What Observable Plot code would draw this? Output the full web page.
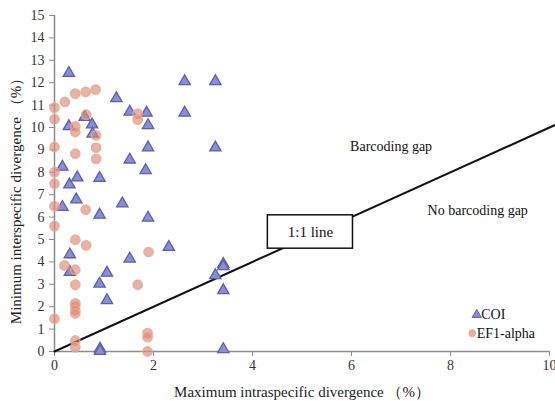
<!DOCTYPE html>
<html>
<head>
<meta charset="utf-8">
<script src="https://cdn.jsdelivr.net/npm/d3@7"></script>
<script src="https://cdn.jsdelivr.net/npm/@observablehq/plot@0.6"></script>
<style>
  html, body { margin: 0; padding: 0; background: #fff; }
  svg { display: block; }
</style>
</head>
<body>
<div id="chart"></div>
<script>
// ---- data ----
const coiX = [0.29, 2.63, 3.25, 1.25, 1.52, 1.86, 2.63, 0.61, 0.29, 0.76, 1.89, 0.77, 1.89, 3.25, 1.52, 0.16, 1.84, 0.46, 0.91, 0.30, 0.44, 1.37, 0.16, 0.91, 1.89, 2.31, 0.31, 1.52, 3.41, 3.41, 0.31, 1.06, 3.25, 0.91, 3.41, 1.06, 0.92, 0.92, 3.41];
const coiY = [12.43, 12.06, 12.06, 11.30, 10.70, 10.65, 10.65, 10.47, 10.05, 10.13, 10.10, 9.72, 9.10, 9.10, 8.56, 8.24, 8.09, 7.76, 7.74, 7.45, 6.78, 6.60, 6.45, 6.10, 5.97, 4.66, 4.33, 4.14, 3.90, 3.80, 3.54, 3.51, 3.40, 3.02, 2.73, 2.28, 0.12, 0.02, 0.10];
const efX = [0, 0, 0.21, 0.42, 0.63, 0.83, 0.64, 0.42, 0.42, 1.68, 1.68, 0.84, 0, 0.84, 0.42, 0.84, 0, 0, 0, 0.63, 0, 0.42, 0.64, 1.90, 0.20, 0.42, 0.42, 1.68, 0.42, 0.42, 0.42, 0.42, 0, 1.88, 1.88, 0.42, 0.42, 1.88];
const efY = [10.89, 10.37, 11.14, 11.51, 11.59, 11.69, 10.57, 10.05, 9.80, 10.62, 10.35, 9.65, 9.13, 9.10, 8.83, 8.60, 8.01, 7.49, 6.49, 6.33, 5.60, 4.99, 4.74, 4.44, 3.84, 3.65, 2.98, 2.98, 2.15, 2.05, 1.85, 1.70, 1.46, 0.82, 0.64, 0.49, 0.19, 0.00];
const xTicks = [0, 2, 4, 6, 8, 10];
const yTicks = [0, 1, 2, 3, 4, 5, 6, 7, 8, 9, 10, 11, 12, 13, 14, 15];
const seriesNames = ["COI", "EF1-alpha"];
const oneToOne = [0, 10.1];
const xLabel = "Maximum intraspecific divergence （%）";
const yLabel = "Minimum interspecific divergence （%）";

const coi = coiX.map((x, i) => ({x, y: coiY[i]}));
const ef = efX.map((x, i) => ({x, y: efY[i]}));

const font = "Liberation Serif, Times New Roman, serif";
const triFill = "#8a8ed2", triStroke = "#5c5fae";
const cirFill = "#d98b7a", cirStroke = "#eba892";

const chart = Plot.plot({
  width: 555,
  height: 401,
  marginLeft: 54,
  marginRight: 6,
  marginTop: 15,
  marginBottom: 50,
  style: {fontFamily: font, fontSize: "14px", color: "#333", background: "#fff"},
  x: {domain: [0, 10]},
  y: {domain: [0, 15]},
  marks: [
    Plot.axisX({ticks: xTicks, tickSize: 5, tickPadding: 4, stroke: "#8c8c8c", fontSize: 14, fill: "#333", label: null}),
    Plot.axisY({ticks: yTicks, tickSize: 5, tickPadding: 5, stroke: "#8c8c8c", fontSize: 14, fill: "#333", label: null}),
    Plot.ruleY([0], {stroke: "#8c8c8c", strokeWidth: 1.5}),
    Plot.ruleX([0], {stroke: "#8c8c8c", strokeWidth: 1.5}),
    Plot.text([xLabel], {frameAnchor: "bottom", lineAnchor: "bottom", dy: 45, fontSize: 15, fill: "#222"}),
    Plot.text([yLabel], {frameAnchor: "left", textAnchor: "middle", rotate: -90, dx: -38, dy: 14, fontSize: 15, fill: "#222"}),
    Plot.line(oneToOne, {x: d => d, y: d => d, stroke: "#111", strokeWidth: 2}),
    Plot.rect([0], {x1: 4.31, x2: 6.03, y1: 4.59, y2: 6.08, fill: "#fff", stroke: "#111", strokeWidth: 1.5}),
    Plot.text(["1:1 line"], {x: 5.17, y: 5.33, fontSize: 15, fill: "#111"}),
    Plot.text(["Barcoding gap"], {x: 6.8, y: 9.15, fontSize: 14, fill: "#111"}),
    Plot.text(["No barcoding gap"], {x: 8.55, y: 6.3, fontSize: 14, fill: "#111"}),
    Plot.dot(coi, {x: "x", y: "y", symbol: "triangle", r: 4.2, fill: triFill, stroke: triStroke, strokeWidth: 1.3}),
    Plot.dot(ef, {x: "x", y: "y", r: 4.7, fill: cirFill, fillOpacity: 0.65, stroke: cirStroke, strokeWidth: 1.4, strokeOpacity: 0.85}),
    // legend
    Plot.dot([seriesNames[0]], {x: 8.53, y: 1.64, symbol: "triangle", r: 3.4, fill: triFill, stroke: triStroke, strokeWidth: 1}),
    Plot.dot([seriesNames[1]], {x: 8.44, y: 0.82, r: 3.4, fill: cirFill, fillOpacity: 0.7, stroke: cirStroke, strokeWidth: 1}),
    Plot.text([seriesNames[0]], {x: 8.62, y: 1.64, text: d => d, textAnchor: "start", fontSize: 14, fill: "#111"}),
    Plot.text([seriesNames[1]], {x: 8.53, y: 0.82, text: d => d, textAnchor: "start", fontSize: 14, fill: "#111"})
  ]
});
document.getElementById("chart").appendChild(chart);
</script>
</body>
</html>
